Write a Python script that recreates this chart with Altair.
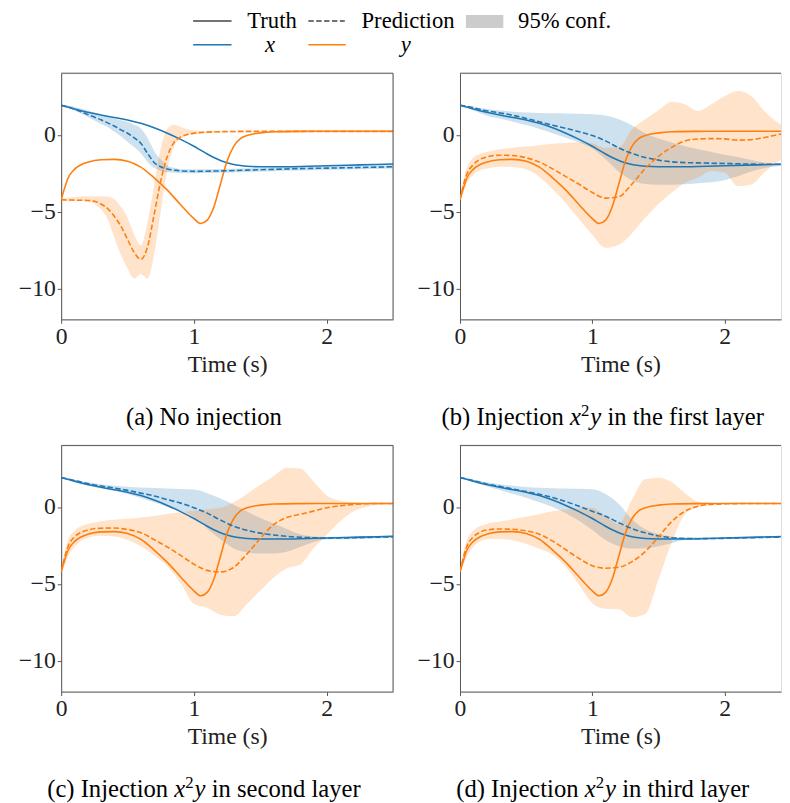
import altair as alt
import pandas as pd

FONT = "Liberation Serif, Times New Roman, Tinos, DejaVu Serif, serif"
BLUE = "#1f77b4"
ORANGE = "#ff7f0e"
FRAME = "#555555"
INK = "#222222"

# ---------------- ground truth (shared by all panels) ----------------
T_TRUTH = [0, 0.025, 0.05, 0.1, 0.15, 0.2, 0.3, 0.4, 0.5, 0.6, 0.7, 0.8, 0.9, 1.0,
           1.05, 1.1, 1.15, 1.2, 1.25, 1.3, 1.35, 1.4, 1.5, 1.6, 1.8, 2.0, 2.25, 2.5]
X_TRUTH = [1.92, 1.86, 1.8, 1.68, 1.56, 1.46, 1.28, 1.12, 0.96, 0.74, 0.45, 0.1, -0.3, -0.75,
           -1.0, -1.25, -1.48, -1.67, -1.82, -1.93, -2.0, -2.05, -2.08, -2.08, -2.06, -2.02, -1.96, -1.9]
Y_TRUTH = [-4.22, -3.5, -2.85, -2.25, -1.95, -1.78, -1.62, -1.6, -1.72, -2.1, -2.8, -3.6, -4.55, -5.45,
           -5.77, -5.55, -4.7, -3.2, -1.7, -0.75, -0.25, -0.05, 0.12, 0.19, 0.22, 0.23, 0.23, 0.23]

# ---------------- (a) No injection ----------------
A_T = [0, 0.05, 0.1, 0.15, 0.2, 0.25, 0.3, 0.35, 0.4, 0.45, 0.5, 0.55, 0.6, 0.65, 0.7,
       0.75, 0.8, 0.85, 0.9, 0.95, 1.0, 1.1, 1.2, 1.4, 1.6, 1.8, 2.0, 2.25, 2.5]
A_X_PRED = [1.92, 1.8, 1.66, 1.5, 1.32, 1.15, 0.97, 0.77, 0.57, 0.32, 0.1, -0.2, -0.55, -1.2, -1.8,
            -2.08, -2.22, -2.3, -2.35, -2.37, -2.38, -2.37, -2.35, -2.3, -2.25, -2.2, -2.17, -2.13, -2.08]
A_X_HI = [1.95, 1.88, 1.8, 1.7, 1.58, 1.45, 1.32, 1.18, 1.05, 0.95, 0.83, 0.65, 0.42, -0.2, -1.05,
          -1.6, -2.0, -2.15, -2.22, -2.25, -2.26, -2.25, -2.23, -2.18, -2.13, -2.08, -2.05, -2.01, -1.96]
A_X_LO = [1.9, 1.74, 1.58, 1.38, 1.15, 0.92, 0.7, 0.5, 0.2, -0.1, -0.45, -0.8, -1.2, -1.75, -2.15,
          -2.35, -2.43, -2.47, -2.5, -2.5, -2.5, -2.49, -2.47, -2.42, -2.37, -2.32, -2.29, -2.25, -2.2]
A_Y_PRED = [-4.23, -4.24, -4.25, -4.26, -4.27, -4.32, -4.5, -4.8, -5.3, -5.95, -6.8, -7.65, -8.1, -7.3, -5.2,
            -3.0, -1.4, -0.5, -0.15, 0.02, 0.1, 0.17, 0.2, 0.22, 0.22, 0.22, 0.22, 0.22, 0.22]
A_Y_HI = [-4.2, -4.1, -4.05, -4.02, -4.0, -4.0, -4.0, -4.02, -4.2, -4.7, -5.4, -6.5, -7.2, -5.7, -3.3,
          -0.9, 0.4, 0.65, 0.5, 0.35, 0.28, 0.24, 0.23, 0.23, 0.23, 0.23, 0.23, 0.23, 0.23]
A_Y_LO = [-4.27, -4.3, -4.3, -4.3, -4.32, -4.5, -4.85, -5.5, -6.7, -7.8, -8.7, -9.35, -9.05, -9.35, -7.8,
          -5.0, -2.3, -0.8, -0.25, -0.05, 0.03, 0.1, 0.13, 0.15, 0.16, 0.17, 0.18, 0.18, 0.18]

# ---------------- common time grid for (b), (c), (d) ----------------
G_T = [0, 0.025, 0.05, 0.1, 0.15, 0.2, 0.3, 0.4, 0.5, 0.6, 0.7, 0.8, 0.9, 1.0, 1.1, 1.2,
       1.3, 1.4, 1.5, 1.6, 1.7, 1.8, 1.9, 2.0, 2.1, 2.2, 2.3, 2.4, 2.5]

# (b) Injection in the first layer
B_X_PRED = [1.92, 1.88, 1.84, 1.76, 1.66, 1.56, 1.42, 1.26, 1.06, 0.84, 0.62, 0.42, 0.2, -0.05, -0.4,
            -0.85, -1.22, -1.48, -1.65, -1.76, -1.81, -1.83, -1.85, -1.87, -1.89, -1.91, -1.92, -1.92, -1.92]
B_X_HI = [1.94, 1.9, 1.86, 1.8, 1.74, 1.68, 1.58, 1.5, 1.44, 1.41, 1.39, 1.38, 1.36, 1.33, 1.25,
          1.0, 0.6, 0.1, -0.25, -0.5, -0.75, -0.95, -1.12, -1.3, -1.45, -1.64, -1.8, -1.9, -1.93]
B_X_LO = [1.9, 1.82, 1.75, 1.6, 1.42, 1.25, 1.05, 0.85, 0.63, 0.38, 0.1, -0.2, -0.5, -0.9, -1.6,
          -2.4, -2.95, -3.2, -3.25, -3.25, -3.22, -3.15, -3.08, -2.95, -2.7, -2.39, -2.17, -2.05, -2.0]
B_Y_PRED = [-4.2, -3.3, -2.6, -1.95, -1.6, -1.45, -1.33, -1.35, -1.5, -1.78, -2.22, -2.72, -3.22, -3.75, -4.12,
            -4.03, -3.2, -2.2, -1.4, -0.82, -0.4, -0.28, -0.25, -0.27, -0.35, -0.32, -0.18, 0.0, 0.15]
B_Y_HI = [-4.15, -3.0, -2.2, -1.5, -1.25, -1.12, -0.95, -0.85, -0.77, -0.68, -0.58, -0.53, -0.48, -0.55, -0.85,
          -0.82, 0.35, 1.0, 1.6, 2.15, 1.98, 1.55, 1.98, 2.5, 2.84, 2.52, 1.55, 0.8, 0.4]
B_Y_LO = [-4.3, -3.8, -3.2, -2.6, -2.3, -2.2, -2.08, -2.1, -2.25, -2.75, -3.55, -4.45, -5.5, -6.5, -7.35,
          -7.15, -6.4, -5.4, -4.5, -3.75, -3.13, -2.78, -2.35, -2.45, -3.35, -3.24, -2.45, -1.75, -1.3]

# (c) Injection in second layer
C_X_PRED = [1.9, 1.86, 1.82, 1.72, 1.62, 1.52, 1.36, 1.23, 1.08, 0.9, 0.72, 0.48, 0.25, -0.05, -0.4,
            -0.85, -1.25, -1.52, -1.7, -1.82, -1.91, -1.97, -2.0, -2.02, -2.02, -2.0, -1.98, -1.96, -1.94]
C_X_HI = [1.92, 1.88, 1.84, 1.76, 1.68, 1.6, 1.47, 1.38, 1.32, 1.27, 1.23, 1.2, 1.17, 1.13, 0.9,
          0.55, 0.15, -0.3, -0.72, -1.08, -1.43, -1.78, -1.92, -1.95, -1.94, -1.92, -1.9, -1.88, -1.86]
C_X_LO = [1.88, 1.82, 1.76, 1.62, 1.5, 1.38, 1.22, 1.05, 0.85, 0.58, 0.3, 0.0, -0.25, -0.65, -1.4,
          -2.1, -2.7, -2.95, -3.03, -3.02, -2.91, -2.6, -2.3, -2.12, -2.1, -2.08, -2.06, -2.04, -2.02]
C_Y_PRED = [-4.2, -3.3, -2.6, -1.95, -1.65, -1.5, -1.38, -1.37, -1.47, -1.67, -2.12, -2.6, -3.15, -3.72, -4.12,
            -4.22, -3.92, -3.05, -2.05, -1.15, -0.68, -0.48, -0.27, -0.05, 0.07, 0.17, 0.21, 0.23, 0.23]
C_Y_HI = [-4.15, -3.0, -2.2, -1.55, -1.25, -1.1, -0.92, -0.83, -0.76, -0.68, -0.58, -0.46, -0.35, -0.24, -0.15,
          -0.05, 0.3, 0.85, 1.45, 2.0, 2.55, 2.5, 1.66, 0.75, 0.42, 0.3, 0.26, 0.24, 0.24]
C_Y_LO = [-4.3, -3.8, -3.25, -2.6, -2.2, -2.0, -1.87, -1.92, -2.15, -2.55, -3.15, -3.85, -4.95, -6.3, -6.55,
          -7.0, -7.1, -6.3, -5.45, -4.6, -3.98, -3.75, -2.7, -1.8, -0.95, -0.3, 0.02, 0.15, 0.2]

# (d) Injection in third layer
D_X_PRED = [1.9, 1.86, 1.82, 1.72, 1.61, 1.5, 1.34, 1.17, 1.0, 0.82, 0.62, 0.35, 0.05, -0.28, -0.6,
            -1.02, -1.4, -1.68, -1.88, -2.0, -2.05, -2.06, -2.05, -2.04, -2.02, -2.0, -1.98, -1.96, -1.94]
D_X_HI = [1.92, 1.88, 1.84, 1.76, 1.68, 1.6, 1.48, 1.38, 1.3, 1.25, 1.22, 1.2, 1.18, 1.15, 0.85,
          0.2, -0.8, -1.45, -1.75, -1.92, -1.99, -2.0, -2.0, -1.99, -1.97, -1.95, -1.93, -1.91, -1.89]
D_X_LO = [1.88, 1.82, 1.76, 1.62, 1.48, 1.35, 1.1, 0.85, 0.6, 0.3, 0.0, -0.4, -0.9, -1.5, -2.15,
          -2.55, -2.7, -2.68, -2.55, -2.35, -2.15, -2.1, -2.09, -2.08, -2.06, -2.04, -2.02, -2.0, -1.98]
D_Y_PRED = [-4.2, -3.3, -2.6, -1.95, -1.65, -1.5, -1.43, -1.45, -1.55, -1.77, -2.22, -2.78, -3.35, -3.82, -3.98,
            -3.92, -3.55, -2.9, -1.95, -0.95, -0.28, 0.05, 0.17, 0.2, 0.22, 0.23, 0.23, 0.23, 0.23]
D_Y_HI = [-4.15, -3.0, -2.2, -1.55, -1.25, -1.1, -0.95, -0.8, -0.63, -0.45, -0.28, -0.17, -0.08, -0.05, -0.6,
          -1.1, 0.5, 1.8, 1.9, 1.6, 0.9, 0.35, 0.25, 0.23, 0.23, 0.23, 0.23, 0.23, 0.23]
D_Y_LO = [-4.3, -3.8, -3.25, -2.6, -2.25, -2.1, -2.08, -2.17, -2.4, -2.72, -3.1, -3.9, -5.05, -6.25, -6.62,
          -6.64, -7.15, -6.95, -4.7, -2.3, -0.47, 0.0, 0.15, 0.2, 0.22, 0.22, 0.22, 0.22, 0.22]

# captions: (text, style) segments; "it" = italic math, "sup" = superscript
CAPTION_A = [("(a) No injection", "rm")]
CAPTION_B = [("(b) Injection ", "rm"), ("x", "it"), ("2", "sup"), ("y", "it"), (" in the first layer", "rm")]
CAPTION_C = [("(c) Injection ", "rm"), ("x", "it"), ("2", "sup"), ("y", "it"), (" in second layer", "rm")]
CAPTION_D = [("(d) Injection ", "rm"), ("x", "it"), ("2", "sup"), ("y", "it"), (" in third layer", "rm")]
LEGEND_TEXT = ["Truth", "Prediction", "95% conf.", "x", "y"]

X_TICKS = [0, 1, 2]
Y_TICKS = [-10, -5, 0]
Y_DOMAIN = [-12, 4]

PANEL_H = 250
CAP_SIZE = 25
SUP_SIZE = 17
AX_SIZE = 24
ONE = pd.DataFrame({"k": [0]})

# Times / Liberation Serif advance widths (1/1000 em), used to lay out the mixed-style captions
TIMES_RM = {" ": 250, "(": 333, ")": 333, "a": 444, "b": 500, "c": 444, "d": 500, "e": 444, "f": 333,
            "h": 500, "i": 278, "j": 278, "l": 278, "n": 500, "o": 500, "r": 333, "s": 389, "t": 278,
            "y": 500, "x": 500, "I": 333, "N": 722, "2": 500}
TIMES_IT = {"x": 444, "y": 444}


def seg_width(s, style):
    if style == "it":
        return sum(TIMES_IT.get(ch, 500) for ch in s) * CAP_SIZE / 1000
    if style == "sup":
        return sum(TIMES_RM.get(ch, 500) for ch in s) * SUP_SIZE / 1000 + 1
    return sum(TIMES_RM.get(ch, 500) for ch in s) * CAP_SIZE / 1000


def caption_layers(parts, cx, base):
    total = sum(seg_width(s, st) for s, st in parts)
    x = cx - total / 2
    out = []
    for s, st in parts:
        w = seg_width(s, st)
        lead = (len(s) - len(s.lstrip(" "))) * TIMES_RM[" "] * CAP_SIZE / 1000
        txt = s.strip(" ")
        kw = dict(font=FONT, fontSize=CAP_SIZE, color="black", align="left", baseline="alphabetic")
        y = base
        if st == "it":
            kw["fontStyle"] = "italic"
        elif st == "sup":
            kw["fontSize"] = SUP_SIZE
            y = base - 9
        out.append(alt.Chart(ONE).mark_text(**kw).encode(
            x=alt.value(x + lead), y=alt.value(y), text=alt.value(txt)))
        x += w
    return out


def rule(x1, x2, y1, y2, color, width=1.0, dash=None):
    kw = dict(color=color, strokeWidth=width)
    if dash:
        kw["strokeDash"] = dash
    enc = dict(x=alt.value(x1), y=alt.value(y1))
    if x2 is not None:
        enc["x2"] = alt.value(x2)
    if y2 is not None:
        enc["y2"] = alt.value(y2)
    return alt.Chart(ONE).mark_rule(**kw).encode(**enc)


def label(s, x, y, align="left", italic=False):
    kw = dict(font=FONT, fontSize=23, color="black", align=align, baseline="middle")
    if italic:
        kw["fontStyle"] = "italic"
    return alt.Chart(ONE).mark_text(**kw).encode(x=alt.value(x), y=alt.value(y), text=alt.value(s))


def legend_layers():
    r1, r2 = -53, -29
    return [
        rule(134, 173, r1, None, "#444444", 1.5),
        label(LEGEND_TEXT[0], 189, r1),
        rule(251, 288, r1, None, "#444444", 1.5, [5.5, 2.5]),
        label(LEGEND_TEXT[1], 305, r1),
        alt.Chart(ONE).mark_rect(color="#cccccc").encode(
            x=alt.value(411), x2=alt.value(449), y=alt.value(r1 - 6), y2=alt.value(r1 + 7)),
        label(LEGEND_TEXT[2], 464, r1),
        rule(134, 173, r2, None, BLUE, 1.5),
        label(LEGEND_TEXT[3], 212, r2, "center", True),
        rule(251, 289, r2, None, ORANGE, 1.5),
        label(LEGEND_TEXT[4], 350, r2, "center", True),
    ]


def panel(t, xp, xlo, xhi, yp, ylo, yhi, xmax, width, caption, right, extra=()):
    n = len(t)
    m = len(T_TRUTH)
    band_df = pd.DataFrame({"t": t + t, "lo": xlo + ylo, "hi": xhi + yhi, "var": ["x"] * n + ["y"] * n})
    pred_df = pd.DataFrame({"t": t + t, "v": xp + yp, "var": ["x"] * n + ["y"] * n})
    truth_df = pd.DataFrame({"t": T_TRUTH + T_TRUTH, "v": X_TRUTH + Y_TRUTH, "var": ["x"] * m + ["y"] * m})

    xs = alt.Scale(domain=[0, xmax], nice=False, zero=False)
    ys = alt.Scale(domain=Y_DOMAIN, nice=False, zero=False)
    common = dict(grid=False, domain=True, domainColor=FRAME, domainWidth=1, tickColor=FRAME,
                  tickSize=4, labelFontSize=AX_SIZE, labelColor=INK, labelFont=FONT, labelFlush=False)
    xa = alt.Axis(values=X_TICKS, title="Time (s)", labelPadding=1, titlePadding=5,
                  titleFontSize=AX_SIZE, titleColor=INK, titleFont=FONT, titleFontWeight="normal",
                  format="d", **common)
    ya = alt.Axis(values=Y_TICKS, title=None, labelPadding=2, format="d", **common)
    col = alt.Color("var:N", scale=alt.Scale(domain=["x", "y"], range=[BLUE, ORANGE]), legend=None)
    X = alt.X("t:Q", scale=xs, axis=xa)

    band = alt.Chart(band_df).mark_area(opacity=0.22, interpolate="monotone", clip=True).encode(
        x=X, y=alt.Y("lo:Q", scale=ys, axis=ya), y2="hi:Q", color=col)
    truth = alt.Chart(truth_df).mark_line(strokeWidth=1.6, interpolate="monotone", clip=True).encode(
        x=X, y=alt.Y("v:Q", scale=ys, axis=ya), color=col)
    pred = alt.Chart(pred_df).mark_line(strokeWidth=1.6, strokeDash=[5.5, 2.5], interpolate="monotone",
                                        clip=True).encode(
        x=X, y=alt.Y("v:Q", scale=ys, axis=ya), color=col)

    layers = [band, truth, pred, rule(0, width, 0, None, FRAME)]
    if right:
        layers.append(rule(width, None, 0, PANEL_H, FRAME))
    layers += caption_layers(caption, 145, PANEL_H + 107)
    layers += list(extra)
    return alt.layer(*layers).properties(width=width, height=PANEL_H)


pa = panel(A_T, A_X_PRED, A_X_LO, A_X_HI, A_Y_PRED, A_Y_LO, A_Y_HI, 2.5, 337, CAPTION_A, True,
           legend_layers())
pb = panel(G_T, B_X_PRED, B_X_LO, B_X_HI, B_Y_PRED, B_Y_LO, B_Y_HI, 2.426, 326, CAPTION_B, False)
pc = panel(G_T, C_X_PRED, C_X_LO, C_X_HI, C_Y_PRED, C_Y_LO, C_Y_HI, 2.5, 337, CAPTION_C, True)
pd_ = panel(G_T, D_X_PRED, D_X_LO, D_X_HI, D_Y_PRED, D_Y_LO, D_Y_HI, 2.426, 326, CAPTION_D, False)

chart = alt.concat(pa, pb, pc, pd_, columns=2, spacing={"row": 128, "column": 68},
                   bounds="flush").properties(
    padding={"left": 9, "top": -5, "right": 0, "bottom": 0}
).configure_view(stroke=None).configure(font=FONT)

chart.save("out.html", embed_options={"renderer": "svg", "actions": False})
